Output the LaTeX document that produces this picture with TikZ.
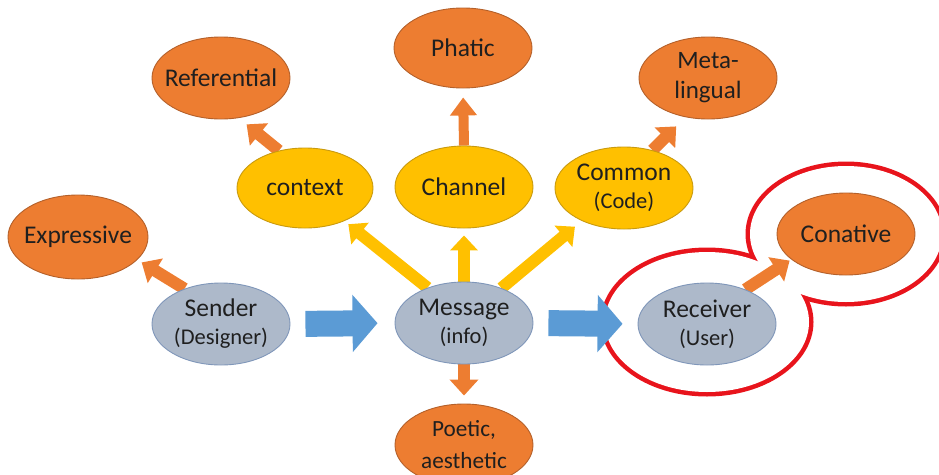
\documentclass[tikz,border=0pt]{standalone}
\usepackage{fontspec}
\setmainfont{Carlito}
\usetikzlibrary{shapes.geometric,arrows.meta}
\pgfdeclarelayer{ring}
\pgfdeclarelayer{links}
\pgfsetlayers{ring,links,main}
\definecolor{orfill}{HTML}{ED7D31}
\definecolor{ordraw}{HTML}{B4602A}
\definecolor{yefill}{HTML}{FFC000}
\definecolor{yedraw}{HTML}{C99A0E}
\definecolor{bgfill}{HTML}{ADB9CA}
\definecolor{bgdraw}{HTML}{7F96B9}
\definecolor{bluearr}{HTML}{5B9BD5}
\definecolor{ringred}{HTML}{E8141C}
\definecolor{txt}{HTML}{1F1F1F}
\newcommand{\bigtxt}{\fontsize{25.5}{28}\selectfont}
\newcommand{\smalltxt}{\fontsize{22.5}{27}\selectfont}
\tikzset{
  % fixed-size ellipses: the negative inner sep lets the minimum size govern
  fn/.style={ellipse, minimum width=138pt, minimum height=82pt, inner sep=-22pt,
    align=center, text=txt, line width=0.9pt, font=\bigtxt},
  onode/.style={fn, fill=orfill, draw=ordraw},
  ynode/.style={fn, fill=yefill, draw=yedraw},
  bnode/.style={fn, fill=bgfill, draw=bgdraw},
  blockblue/.style={bluearr, line width=26pt, -{Triangle[width=56pt,length=25pt]}},
  blockorange/.style={orfill, line width=12pt, -{Triangle[width=28pt,length=16pt]}},
  blockyellow/.style={yefill, line width=12pt, -{Triangle[width=27pt,length=15pt]}},
}
\begin{document}
\begin{tikzpicture}[x=1pt,y=-1pt]
\useasboundingbox (0,0) rectangle (939,474);
\clip (0,0) rectangle (939,474);

% functions (orange)
\node[onode, minimum width=140pt, minimum height=84pt] (expr) at (78,237) {Expressive};
\node[onode] (refe) at (221,78) {Referential};
\node[onode, minimum height=80pt] (phat) at (463,48) {Phatic};
\node[onode, font=\fontsize{25}{30}\selectfont] (meta) at (708,78) {Meta-\\lingual};
\node[onode] (cona) at (846,234) {Conative};
\node[onode, font=\fontsize{23.2}{32}\selectfont] (poet) at (464,445) {Poetic,\\aesthetic};

% factors (yellow)
\node[ynode, minimum width=136pt, minimum height=80pt] (cont) at (305,188) {context};
\node[ynode] (chan) at (464,187) {Channel};
\node[ynode] (comm) at (624,188) {Common\\{\smalltxt (Code)}};

% communication chain (blue-grey)
\node[bnode] (send) at (221,324) {Sender\\{\smalltxt (Designer)}};
\node[bnode] (mess) at (464,323) {Message\\{\smalltxt (info)}};
\node[bnode] (recv) at (707,324) {Receiver\\{\smalltxt (User)}};

% red outline around receiver and conative
\begin{pgfonlayer}{ring}
  \draw[ringred, line width=9pt] (recv.center) ++(0,-2) ellipse [x radius=102, y radius=70];
  \draw[ringred, line width=9pt] (cona.center) ellipse [x radius=96, y radius=68];
  \fill[white] (recv.center) ++(0,-2) ellipse [x radius=102, y radius=70];
  \fill[white] (cona.center) ellipse [x radius=96, y radius=68];
\end{pgfonlayer}

\begin{pgfonlayer}{links}
  % main flow
  \draw[blockblue, shorten <=15pt, shorten >=17pt] (send.east) -- (mess.west);
  \draw[blockblue, shorten <=15pt, shorten >=15pt] (mess.east) -- (recv.west);
  % message to factors
  \draw[blockyellow, shorten >=5pt] (mess.136) -- (cont.-40);
  \draw[blockyellow, shorten >=7pt] (mess.north) -- (chan.south);
  \draw[blockyellow, shorten >=9pt] (mess.43) -- (comm.218);
  % factors to functions
  \draw[blockorange, shorten >=5pt] (send.136) -- (expr.-21);
  \draw[blockorange, shorten >=10pt] (cont.125) -- (refe.-66);
  \draw[blockorange, line width=10pt, -{Triangle[width=26pt,length=18pt]}, shorten >=9pt] (chan.north) -- (phat.south);
  \draw[blockorange, shorten >=13pt] (comm.53) -- (meta.-120);
  \draw[blockorange, shorten >=2pt] (recv.42) -- (cona.205);
  \draw[blockorange, shorten >=8pt] (mess.south) -- (poet.north);
\end{pgfonlayer}
\end{tikzpicture}
\end{document}
